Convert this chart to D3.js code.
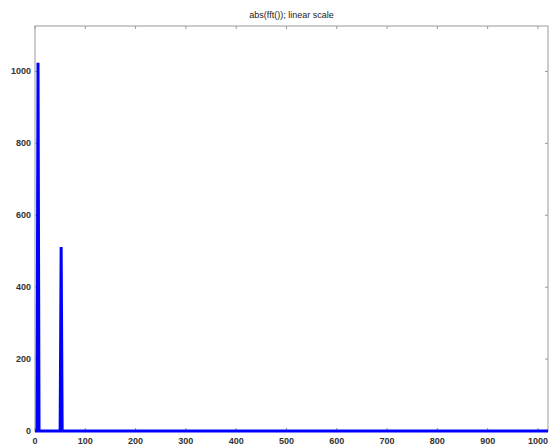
<!DOCTYPE html>
<html>
<head>
<meta charset="utf-8">
<script src="https://cdn.jsdelivr.net/npm/d3@7"></script>
<style>
  body { margin: 0; background: #fff; }
  text { font-family: "Liberation Sans", Arial, sans-serif; }
</style>
</head>
<body>
<script>
var width = 549, height = 445;
var margin = {top: 26, right: 1, bottom: 14, left: 35};

// spectrum: zero everywhere except these bins
var numBins = 1021;
var peakBins = [5, 6, 7, 51, 52, 53];
var peakMags = [512, 1024, 512, 256, 512, 256];
var xTicks = [0, 100, 200, 300, 400, 500, 600, 700, 800, 900, 1000];
var yTicks = [0, 200, 400, 600, 800, 1000];
var title = "abs(fft()); linear scale";

var data = d3.range(numBins).map(function(i) {
  var k = peakBins.indexOf(i);
  return {bin: i, mag: k < 0 ? 0 : peakMags[k]};
});

var svg = d3.select("body").append("svg")
    .attr("width", width)
    .attr("height", height);

var x = d3.scaleLinear().domain([0, 1020]).range([margin.left, width - margin.right]);
var y = d3.scaleLinear().domain([0, 1126.4]).range([height - margin.bottom, margin.top]);

var axisColor = "#999";

// box
svg.append("rect")
    .attr("x", x(0)).attr("y", y(1126.4))
    .attr("width", x(1020) - x(0)).attr("height", y(0) - y(1126.4))
    .attr("fill", "none").attr("stroke", axisColor).attr("stroke-width", 1);

// ticks (inward, top/bottom/left/right)
var tl = 3;
svg.selectAll(".xt").data(xTicks).enter().append("path")
    .attr("d", function(d) {
      var px = x(d);
      return "M" + px + "," + y(0) + "v" + (-tl) + "M" + px + "," + y(1126.4) + "v" + tl;
    })
    .attr("stroke", axisColor).attr("stroke-width", 1);
svg.selectAll(".yt").data(yTicks).enter().append("path")
    .attr("d", function(d) {
      var py = y(d);
      return "M" + x(0) + "," + py + "h" + tl + "M" + x(1020) + "," + py + "h" + (-tl);
    })
    .attr("stroke", axisColor).attr("stroke-width", 1);

// tick labels
svg.selectAll(".xl").data(xTicks).enter().append("text")
    .attr("x", function(d) { return x(d); })
    .attr("y", 444)
    .attr("text-anchor", "middle")
    .attr("font-size", 9).attr("font-weight", "bold").attr("fill", "#333")
    .text(function(d) { return d; });
svg.selectAll(".yl").data(yTicks).enter().append("text")
    .attr("x", 31)
    .attr("y", function(d) { return y(d) + 3; })
    .attr("text-anchor", "end")
    .attr("font-size", 9).attr("font-weight", "bold").attr("fill", "#333")
    .text(function(d) { return d; });

// title
svg.append("text")
    .attr("x", (x(0) + x(1020)) / 2)
    .attr("y", 18)
    .attr("text-anchor", "middle")
    .attr("font-size", 9).attr("fill", "#222")
    .text(title);

// spectrum line
var line = d3.line()
    .x(function(d) { return x(d.bin); })
    .y(function(d) { return y(d.mag); });

svg.append("path")
    .datum(data)
    .attr("d", line)
    .attr("fill", "none")
    .attr("stroke", "#0000ff")
    .attr("stroke-width", 3)
    .attr("stroke-linejoin", "miter");
</script>
</body>
</html>
